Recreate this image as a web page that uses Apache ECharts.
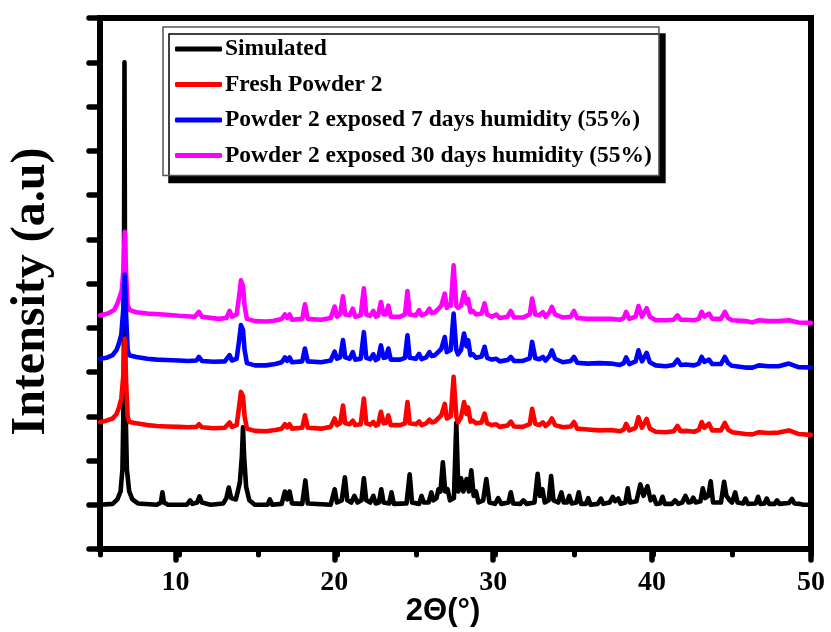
<!DOCTYPE html>
<html>
<head>
<meta charset="utf-8">
<script src="https://cdn.jsdelivr.net/npm/echarts@6/dist/echarts.min.js"></script>
<style>
html,body{margin:0;padding:0;background:#fff;}
#chart{width:831px;height:632px;}
</style>
</head>
<body>
<div id="chart"></div>
<script>
// ---- Data (2Theta in degrees, intensity in offset arbitrary units) ----
var seriesNames = ['Simulated', 'Fresh Powder 2', 'Powder 2 exposed 7 days humidity (55%)', 'Powder 2 exposed 30 days humidity (55%)'];
var seriesColors = ['#000000', '#ff0000', '#0000ff', '#ff00ff'];
var xTickLabels = [10, 20, 30, 40, 50];

var simulated = [
[5.0,1.0],[5.8,1.02],[6.1,1.12],[6.3,1.3],[6.42,1.8],[6.5,3.5],[6.55,11.0],[6.6,3.5],[6.7,1.8],[6.85,1.3],[7.05,1.12],[7.4,1.03],[8.6,1.0],
[8.85,1.05],[8.95,1.28],[9.05,1.05],[9.3,1.0],[10.5,1.0],[10.7,1.1],[10.85,1.02],[11.15,1.05],[11.3,1.19],[11.45,1.05],[12.0,1.0],
[12.8,1.03],[13.0,1.15],[13.15,1.39],[13.3,1.15],[13.6,1.12],[13.85,1.5],[13.98,2.1],[14.05,2.75],[14.12,2.1],[14.25,1.4],[14.45,1.1],[14.8,1.0],
[15.6,1.0],[15.75,1.12],[15.9,1.0],[16.5,1.02],[16.7,1.3],[16.85,1.12],[17.0,1.3],[17.15,1.03],[17.8,1.02],[18.0,1.55],[18.15,1.03],
[19.6,1.0],[19.85,1.35],[20.0,1.05],[20.3,1.1],[20.5,1.62],[20.65,1.1],[20.9,1.05],[21.1,1.2],[21.3,1.05],[21.55,1.1],[21.7,1.6],[21.85,1.1],
[22.1,1.05],[22.3,1.2],[22.45,1.03],[22.65,1.05],[22.8,1.35],[22.95,1.05],[23.3,1.03],[23.45,1.28],[23.6,1.02],[24.4,1.03],[24.6,1.69],[24.75,1.05],
[25.2,1.02],[25.35,1.2],[25.5,1.05],[25.8,1.05],[25.97,1.28],[26.1,1.1],[26.3,1.15],[26.42,1.35],[26.55,1.3],[26.7,1.96],[26.85,1.3],[27.0,1.35],
[27.15,1.1],[27.4,1.15],[27.55,2.85],[27.68,1.3],[27.85,1.6],[28.0,1.3],[28.2,1.58],[28.35,1.3],[28.5,1.78],[28.65,1.2],[28.8,1.3],[28.95,1.05],
[29.25,1.1],[29.45,1.58],[29.65,1.05],[30.0,1.02],[30.2,1.15],[30.4,1.02],[30.85,1.05],[31.0,1.28],[31.15,1.03],[31.6,1.02],[31.8,1.1],[32.0,1.02],
[32.5,1.05],[32.7,1.7],[32.85,1.2],[33.0,1.35],[33.15,1.05],[33.4,1.1],[33.55,1.65],[33.7,1.1],[34.0,1.05],[34.2,1.28],[34.35,1.05],[34.55,1.05],
[34.7,1.2],[34.85,1.03],[35.15,1.05],[35.3,1.28],[35.45,1.02],[35.75,1.02],[35.9,1.15],[36.05,1.0],[36.5,1.02],[36.7,1.14],[36.85,1.02],
[37.25,1.05],[37.45,1.18],[37.6,1.08],[37.8,1.14],[37.95,1.02],[38.25,1.05],[38.4,1.37],[38.55,1.05],[38.95,1.08],[39.2,1.46],[39.4,1.2],
[39.65,1.42],[39.85,1.1],[40.05,1.18],[40.2,1.02],[40.45,1.03],[40.6,1.18],[40.75,1.02],[41.2,1.02],[41.4,1.1],[41.6,1.02],[41.85,1.05],
[42.05,1.2],[42.25,1.05],[42.4,1.06],[42.55,1.16],[42.7,1.05],[43.0,1.08],[43.15,1.37],[43.3,1.15],[43.5,1.2],[43.65,1.53],[43.8,1.05],
[44.3,1.05],[44.5,1.52],[44.65,1.2],[44.85,1.1],[45.0,1.05],[45.2,1.28],[45.35,1.05],[45.7,1.03],[45.85,1.14],[46.0,1.02],[46.5,1.03],
[46.65,1.18],[46.8,1.02],[47.05,1.03],[47.2,1.14],[47.35,1.02],[47.7,1.02],[47.85,1.1],[48.0,1.02],[48.6,1.04],[48.8,1.13],[48.95,1.03],
[49.3,1.02],[49.5,1.0],[50.0,1.0]
];

var freshPowder = [
[5.0,2.87],[5.4,2.9],[5.8,2.95],[6.05,3.05],[6.2,3.2],[6.35,3.4],[6.47,3.9],[6.57,4.75],[6.65,3.8],[6.75,3.0],[6.85,2.87],[7.3,2.84],[8.0,2.8],
[8.6,2.78],[9.2,2.77],[10.0,2.76],[10.6,2.75],[11.1,2.76],[11.26,2.82],[11.45,2.75],[12.2,2.73],[12.9,2.74],[13.2,2.86],[13.35,2.76],[13.65,2.8],
[13.8,3.2],[13.92,3.55],[14.05,3.45],[14.15,3.0],[14.3,2.72],[14.8,2.67],[15.5,2.66],[16.1,2.69],[16.5,2.72],[16.7,2.82],[16.85,2.75],[17.0,2.82],
[17.15,2.72],[17.8,2.74],[17.97,3.02],[18.15,2.74],[19.0,2.72],[19.6,2.76],[19.85,2.95],[20.0,2.8],[20.2,2.84],[20.38,3.24],[20.52,2.84],[20.8,2.82],
[21.0,2.9],[21.15,2.8],[21.5,2.82],[21.7,3.4],[21.85,2.84],[22.1,2.81],[22.3,2.87],[22.45,2.79],[22.6,2.81],[22.78,3.1],[22.95,2.84],[23.1,2.85],
[23.25,3.02],[23.4,2.8],[24.0,2.8],[24.3,2.84],[24.46,3.32],[24.6,2.84],[25.0,2.82],[25.2,2.88],[25.35,2.8],[25.65,2.84],[25.85,2.92],[26.0,2.86],
[26.2,2.88],[26.4,2.95],[26.6,3.02],[26.82,3.28],[26.95,2.95],[27.05,2.96],[27.2,3.0],[27.38,3.89],[27.55,3.0],[27.66,2.86],[27.85,2.98],[28.04,3.32],
[28.2,3.05],[28.3,3.2],[28.45,2.88],[28.6,2.9],[28.8,2.84],[29.15,2.86],[29.34,3.06],[29.5,2.84],[29.8,2.8],[30.08,2.82],[30.3,2.76],[30.8,2.79],
[31.0,2.88],[31.2,2.77],[31.76,2.76],[32.2,2.82],[32.35,3.17],[32.55,2.83],[32.8,2.8],[33.03,2.86],[33.2,2.78],[33.45,2.86],[33.6,2.95],[33.8,2.8],
[34.3,2.75],[34.8,2.77],[35.0,2.87],[35.2,2.72],[35.85,2.7],[36.6,2.68],[37.35,2.69],[37.9,2.66],[38.15,2.7],[38.3,2.83],[38.5,2.68],[38.9,2.74],
[39.08,2.98],[39.3,2.74],[39.6,2.94],[39.8,2.72],[40.17,2.65],[40.8,2.64],[41.3,2.66],[41.55,2.78],[41.75,2.66],[42.07,2.67],[42.6,2.65],[42.9,2.69],
[43.08,2.87],[43.25,2.74],[43.54,2.83],[43.75,2.68],[44.3,2.68],[44.55,2.85],[44.75,2.7],[45.0,2.64],[45.85,2.6],[46.3,2.59],[46.7,2.64],
[47.3,2.62],[47.95,2.63],[48.6,2.68],[49.2,2.6],[50.0,2.58]
];

var exposed7Days = [
[5.0,4.3],[5.4,4.32],[5.8,4.38],[6.05,4.5],[6.2,4.65],[6.35,4.85],[6.47,5.4],[6.57,6.2],[6.65,5.3],[6.75,4.5],[6.85,4.38],[7.3,4.34],[8.0,4.3],
[8.6,4.28],[9.2,4.27],[10.0,4.26],[10.6,4.25],[11.1,4.26],[11.26,4.34],[11.45,4.25],[12.2,4.23],[12.9,4.24],[13.2,4.38],[13.35,4.26],[13.65,4.3],
[13.8,4.7],[13.92,5.06],[14.05,4.95],[14.15,4.5],[14.3,4.2],[14.8,4.15],[15.5,4.15],[16.1,4.18],[16.5,4.22],[16.7,4.33],[16.85,4.25],[17.0,4.33],
[17.15,4.22],[17.8,4.24],[17.97,4.53],[18.15,4.24],[19.0,4.22],[19.6,4.26],[19.85,4.46],[20.0,4.3],[20.2,4.33],[20.38,4.72],[20.52,4.33],[20.8,4.3],
[21.0,4.45],[21.15,4.28],[21.5,4.3],[21.7,4.9],[21.85,4.32],[22.1,4.29],[22.3,4.4],[22.45,4.27],[22.6,4.3],[22.78,4.6],[22.95,4.32],[23.1,4.33],
[23.25,4.53],[23.4,4.28],[24.0,4.28],[24.3,4.32],[24.46,4.83],[24.6,4.32],[25.0,4.3],[25.2,4.41],[25.35,4.29],[25.65,4.33],[25.85,4.45],[26.0,4.36],
[26.2,4.38],[26.4,4.45],[26.6,4.52],[26.82,4.79],[26.95,4.45],[27.05,4.49],[27.2,4.5],[27.38,5.32],[27.55,4.5],[27.66,4.4],[27.85,4.5],[28.04,4.87],
[28.2,4.58],[28.3,4.72],[28.45,4.38],[28.6,4.4],[28.8,4.32],[29.15,4.35],[29.34,4.57],[29.5,4.32],[29.8,4.28],[30.08,4.3],[30.3,4.24],[30.8,4.27],
[31.0,4.34],[31.2,4.25],[31.76,4.25],[32.2,4.31],[32.35,4.68],[32.55,4.31],[32.8,4.29],[33.03,4.34],[33.2,4.26],[33.45,4.36],[33.6,4.49],[33.8,4.3],
[34.3,4.22],[34.8,4.25],[35.0,4.34],[35.2,4.21],[35.85,4.19],[36.6,4.2],[37.35,4.19],[37.9,4.16],[38.15,4.2],[38.3,4.33],[38.5,4.18],[38.9,4.24],
[39.08,4.49],[39.3,4.24],[39.6,4.43],[39.8,4.22],[40.17,4.15],[40.8,4.13],[41.3,4.16],[41.55,4.28],[41.75,4.16],[42.07,4.17],[42.6,4.15],[42.9,4.19],
[43.08,4.34],[43.25,4.23],[43.54,4.28],[43.75,4.18],[44.3,4.18],[44.55,4.34],[44.75,4.2],[45.0,4.14],[45.85,4.1],[46.3,4.1],[46.7,4.15],
[47.3,4.13],[47.95,4.13],[48.6,4.19],[49.2,4.11],[50.0,4.1]
];

var exposed30Days = [
[5.0,5.28],[5.5,5.32],[5.9,5.4],[6.1,5.55],[6.25,5.7],[6.38,5.85],[6.48,6.3],[6.57,7.17],[6.65,6.2],[6.75,5.5],[6.9,5.4],[7.3,5.35],[8.0,5.32],
[9.0,5.3],[10.0,5.27],[11.0,5.25],[11.26,5.36],[11.45,5.25],[12.5,5.2],[13.0,5.22],[13.2,5.38],[13.35,5.25],[13.65,5.3],[13.8,5.7],[13.92,6.07],
[14.05,5.95],[14.15,5.5],[14.3,5.2],[14.8,5.15],[15.5,5.14],[16.0,5.16],[16.5,5.2],[16.7,5.3],[16.85,5.22],[17.0,5.3],[17.15,5.18],[17.8,5.2],
[17.97,5.53],[18.15,5.2],[19.0,5.18],[19.6,5.22],[19.85,5.48],[20.0,5.25],[20.2,5.3],[20.38,5.71],[20.52,5.3],[20.8,5.28],[21.0,5.43],[21.15,5.25],
[21.5,5.28],[21.7,5.89],[21.85,5.3],[22.1,5.27],[22.3,5.38],[22.45,5.25],[22.6,5.27],[22.78,5.58],[22.95,5.3],[23.1,5.3],[23.25,5.5],[23.4,5.25],
[24.0,5.25],[24.3,5.3],[24.46,5.83],[24.6,5.3],[25.0,5.28],[25.2,5.4],[25.35,5.28],[25.65,5.32],[25.85,5.43],[26.0,5.33],[26.2,5.35],[26.4,5.42],
[26.6,5.5],[26.82,5.77],[26.95,5.45],[27.05,5.52],[27.2,5.5],[27.38,6.41],[27.55,5.5],[27.66,5.45],[27.85,5.5],[28.04,5.8],[28.2,5.55],[28.3,5.65],
[28.45,5.35],[28.6,5.38],[28.8,5.3],[29.15,5.32],[29.34,5.55],[29.5,5.3],[29.8,5.25],[30.08,5.3],[30.3,5.22],[30.8,5.25],[31.0,5.38],[31.2,5.23],
[31.76,5.23],[32.2,5.3],[32.35,5.66],[32.55,5.3],[32.8,5.28],[33.03,5.35],[33.2,5.25],[33.45,5.35],[33.6,5.47],[33.8,5.3],[34.3,5.23],[34.8,5.25],
[35.0,5.38],[35.2,5.22],[35.85,5.2],[36.6,5.2],[37.35,5.2],[37.9,5.18],[38.15,5.22],[38.3,5.36],[38.5,5.2],[38.9,5.25],[39.08,5.49],[39.3,5.25],
[39.6,5.44],[39.8,5.25],[40.17,5.17],[40.8,5.17],[41.3,5.18],[41.55,5.28],[41.75,5.18],[42.07,5.18],[42.6,5.17],[42.9,5.2],[43.08,5.36],[43.25,5.25],
[43.54,5.32],[43.75,5.2],[44.3,5.2],[44.55,5.36],[44.75,5.22],[45.0,5.17],[45.85,5.15],[46.3,5.12],[46.7,5.17],[47.3,5.15],[47.95,5.15],
[48.6,5.17],[49.2,5.12],[50.0,5.11]
];

var chart = echarts.init(document.getElementById('chart'), null, {renderer: 'canvas'});

function lineSeries(name, data, color, z) {
  return {
    name: name, type: 'line', data: data, xAxisIndex: 0, yAxisIndex: 0,
    showSymbol: false, symbol: 'none', smooth: false, z: z,
    color: color,
    lineStyle: {color: color, width: 4.6, join: 'round', cap: 'round'},
    emphasis: {disabled: true}
  };
}

var serif = 'Liberation Serif';
var plotLeftPx = 96, plotRightGap = 20, plotTopPx = 18, plotBottomGap = 83;
var shiftLeft = plotLeftPx + (831 - plotRightGap - plotLeftPx) * 5 / 45;

chart.setOption({
  animation: false,
  backgroundColor: '#ffffff',
  grid: [
    {left: plotLeftPx, right: plotRightGap, top: plotTopPx, bottom: plotBottomGap, show: true, borderWidth: 6, borderColor: '#000', backgroundColor: 'transparent'},
    {left: shiftLeft, right: plotRightGap, top: plotTopPx, bottom: plotBottomGap, show: false}
  ],
  legend: {
    orient: 'vertical', left: 163, top: 27,
    data: seriesNames,
    icon: 'roundRect', itemWidth: 47, itemHeight: 5, itemGap: 7.5,
    padding: [8, 7, 6, 12],
    backgroundColor: '#ffffff', borderColor: '#555', borderWidth: 1.5,
    shadowColor: '#000', shadowBlur: 0.01, shadowOffsetX: 6, shadowOffsetY: 7,
    selectedMode: false,
    textStyle: {fontFamily: serif, fontWeight: 'bold', fontSize: 23.5, color: '#000', lineHeight: 28, padding: [0, 0, 0, -2]}
  },
  xAxis: [
    {
      type: 'value', gridIndex: 0, min: 5, max: 50, interval: 5,
      axisLine: {show: false}, splitLine: {show: false},
      axisTick: {show: true, inside: false, length: 6, lineStyle: {color: '#000', width: 5, cap: 'round'}},
      axisLabel: {show: false},
      name: '2\u0398(\u00b0)', nameLocation: 'middle', nameGap: 47,
      nameTextStyle: {fontFamily: 'Liberation Sans', fontWeight: 'bold', fontSize: 31, color: '#000', padding: [0, 25, 0, 0]}
    },
    {
      type: 'value', gridIndex: 1, min: xTickLabels[0], max: xTickLabels[xTickLabels.length - 1], interval: 10,
      axisLine: {show: false}, splitLine: {show: false},
      axisTick: {show: true, inside: false, length: 11, lineStyle: {color: '#000', width: 5.5, cap: 'round'}},
      axisLabel: {show: true, margin: 20, fontFamily: serif, fontWeight: 'bold', fontSize: 28, color: '#000'}
    }
  ],
  yAxis: [
    {
      type: 'value', gridIndex: 0, min: 0, max: 12, interval: 1,
      axisLine: {show: false}, splitLine: {show: false},
      axisTick: {show: true, inside: false, length: 11, lineStyle: {color: '#000', width: 5.5, cap: 'round'}},
      axisLabel: {show: false},
      name: 'Intensity (a.u)', nameLocation: 'middle', nameGap: 44,
      nameTextStyle: {fontFamily: serif, fontWeight: 'bold', fontSize: 48, color: '#000', padding: [0, 16, 0, 0]}
    },
    {type: 'value', gridIndex: 1, min: 0, max: 12, show: false}
  ],
  series: [
    lineSeries(seriesNames[0], simulated, seriesColors[0], 2),
    lineSeries(seriesNames[3], exposed30Days, seriesColors[3], 3),
    lineSeries(seriesNames[2], exposed7Days, seriesColors[2], 4),
    lineSeries(seriesNames[1], freshPowder, seriesColors[1], 5)
  ]
});
</script>
</body>
</html>
